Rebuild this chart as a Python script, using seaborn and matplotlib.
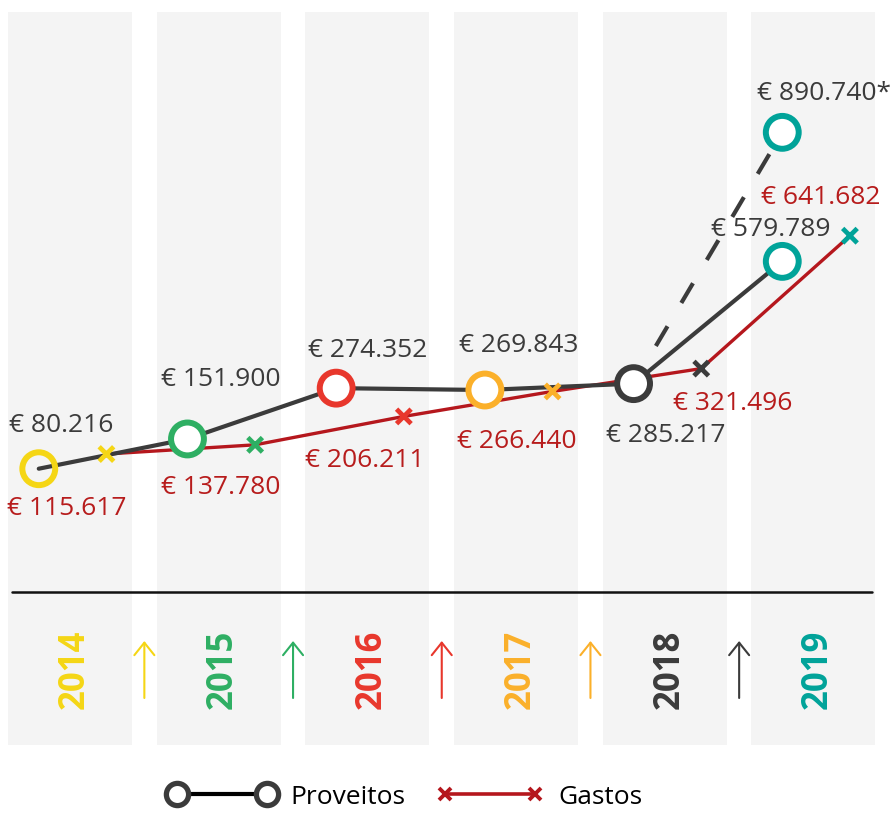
import matplotlib
matplotlib.use("Agg")
import matplotlib.pyplot as plt
from matplotlib.lines import Line2D
import seaborn as sns
import pandas as pd

# ---------------- data ----------------
years = ["2014", "2015", "2016", "2017", "2018", "2019"]
proveitos = [80216, 151900, 274352, 269843, 285217, 579789]
proveitos_proj_label = "2019*"
proveitos_proj = 890740
gastos = [115617, 137780, 206211, 266440, 321496, 641682]
year_colors = ["#F5D615", "#2EAF63", "#E8372C", "#FBB02A", "#3B3B3B", "#00A399"]
legend_labels = ["Proveitos", "Gastos"]

# ---------------- style ----------------
sns.set_theme(style="white")
plt.rcParams["font.family"] = ["Open Sans", "DejaVu Sans"]

DARK = "#3B3B3B"
RED = "#B5171D"
RED_TXT = "#B71C1C"
BAND = "#F4F4F4"
FS = 19

W, H = 893, 814
fig = plt.figure(figsize=(W / 100, H / 100), dpi=100)
ax = fig.add_axes([0, 0, 1, 1])

# pixel <-> data helpers (layout only)
X0, XS = 70.0, 148.7          # band-0 centre pixel, pixel per category
Y0, YS = 502.0, 0.000415      # pixel of value 0, pixel per euro
def xd(px):
    return (px - X0) / XS
def yd(py):
    return (Y0 - py) / YS

ax.set_xlim(xd(0), xd(W))
ax.set_ylim(yd(H), yd(0))
ax.axis("off")

n = len(years)
pos = list(range(n))
circ_x = [p - 0.21 for p in pos]
gast_x = [p + 0.245 for p in pos]

# background bands
ax.bar(pos, yd(12) - yd(745), bottom=yd(745), width=124 / XS,
       color=BAND, zorder=0, linewidth=0)

# separator line
ax.axhline(yd(592), xmin=12 / W, xmax=872 / W, color="#111111", lw=1.8, zorder=1)

# lines
sns.lineplot(x=gast_x, y=gastos, color=RED, lw=2.4, sort=False, ax=ax, zorder=2)
sns.lineplot(x=circ_x, y=proveitos, color=DARK, lw=3.0, sort=False, ax=ax, zorder=3)
sns.lineplot(x=[circ_x[4], circ_x[5]], y=[proveitos[4], proveitos_proj],
             color=DARK, lw=3.0, sort=False, ax=ax, zorder=3)
ax.lines[-1].set_linestyle((1.5, (5.5, 6.5)))

# proveitos circles
pal = dict(zip(years, year_colors))
pal[proveitos_proj_label] = year_colors[-1]
dfc = pd.DataFrame({"x": circ_x + [circ_x[5]],
                    "y": proveitos + [proveitos_proj],
                    "year": years + [proveitos_proj_label]})
sns.scatterplot(data=dfc, x="x", y="y", hue="year", palette=pal, s=560,
                legend=False, ax=ax, zorder=4, linewidth=4.3)
coll = ax.collections[-1]
cols = [pal[y] for y in dfc["year"]]
coll.set_edgecolors(cols)
coll.set_facecolors(["none"] + ["white"] * (len(cols) - 1))

# gastos x markers
dfg = pd.DataFrame({"x": gast_x, "y": gastos, "year": years})
sns.scatterplot(data=dfg, x="x", y="y", hue="year", palette=pal, marker="x",
                s=110, linewidth=3.4, legend=False, ax=ax, zorder=5)

def fmt(v):
    return "€ " + f"{v:,}".replace(",", ".")

# value labels (offsets in pixels)
prov_off = [(22, 43), (33, 59), (32, 38), (34, 45), (32, -52), (-12, 32)]
for xi, v, (dx, dy) in zip(circ_x, proveitos, prov_off):
    ax.annotate(fmt(v), (xi, v), xytext=(dx, dy), textcoords="offset pixels",
                ha="center", va="center", fontsize=FS, color=DARK, zorder=6)
ax.annotate(fmt(proveitos_proj) + "*", (circ_x[5], proveitos_proj), xytext=(42, 39),
            textcoords="offset pixels", ha="center", va="center",
            fontsize=FS, color=DARK, zorder=6)

gast_off = [(-40, -54), (-34, -43), (-39, -44), (-36, -50), (31, -35), (-29, 38)]
for xi, v, (dx, dy) in zip(gast_x, gastos, gast_off):
    ax.annotate(fmt(v), (xi, v), xytext=(dx, dy), textcoords="offset pixels",
                ha="center", va="center", fontsize=FS, color=RED_TXT, zorder=6)

# year labels
for p, yr, c in zip(pos, years, year_colors):
    ax.text(p + 0.03, yd(669), yr, rotation=90, ha="center", va="center",
            fontsize=25, fontweight="bold", color=c, zorder=2)

# arrows between bands
for p, c in zip(pos[:-1], year_colors[:-1]):
    ax.annotate("", xy=(p + 0.5, yd(641)), xytext=(p + 0.5, yd(698)),
                arrowprops=dict(arrowstyle="->,head_length=0.45,head_width=0.36",
                                color=c, lw=1.5, shrinkA=0, shrinkB=0,
                                mutation_scale=20), zorder=2)

# legend
handles = [
    Line2D([], [], color="black", lw=3, marker="o", ms=16, mfc="white",
           mec=DARK, mew=3.8),
    Line2D([], [], color=RED, lw=2.6, marker="x", ms=8, mec=RED, mew=2.8),
]
fig.legend(handles, legend_labels, loc="center", bbox_to_anchor=(406 / W, 1 - 797 / H),
           ncol=2, numpoints=2, handlelength=4.0, handletextpad=0.6,
           columnspacing=1.2, frameon=False, fontsize=FS, labelcolor="black")

fig.savefig("out.png", dpi=100)
